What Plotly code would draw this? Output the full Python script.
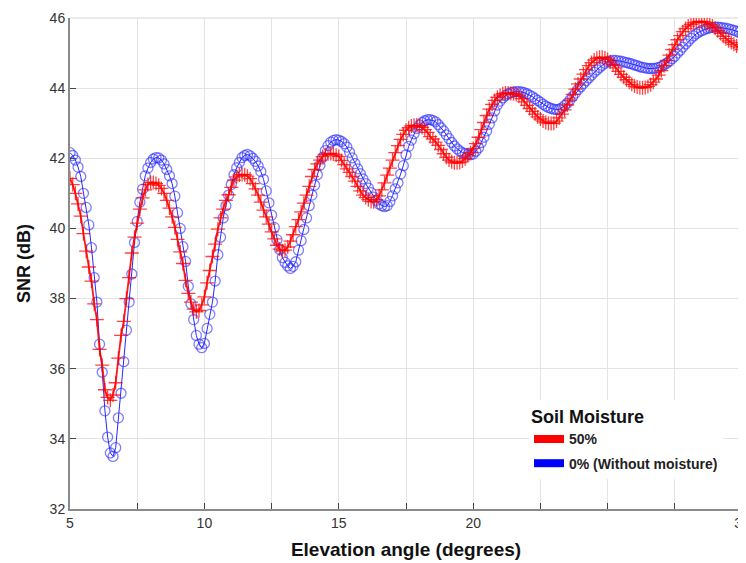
import numpy as np
import plotly.graph_objects as go

# Elevation angles (degrees), 0.1 degree step as in the reference
elevation = [round(5 + 0.1 * i, 1) for i in range(251)]

# SNR (dB) for 0% soil moisture (without moisture)
snr_dry = [
    42.16, 42.08, 41.95, 41.75, 41.48, 41.00, 40.60, 40.10, 39.45, 38.60,
    37.90, 36.70, 35.90, 34.80, 34.05, 33.60, 33.50, 33.75, 34.60, 35.30,
    36.20, 37.10, 37.90, 38.70, 39.60, 40.20, 40.75, 41.12, 41.50, 41.72,
    41.88, 41.98, 42.02, 42.01, 41.95, 41.84, 41.68, 41.50, 41.28, 40.92,
    40.45, 40.00, 39.48, 39.06, 38.35, 37.85, 37.40, 36.95, 36.70, 36.60,
    36.72, 37.15, 37.55, 37.90, 38.50, 39.25, 39.75, 40.30, 40.65, 40.95,
    41.25, 41.53, 41.73, 41.88, 42.02, 42.08, 42.11, 42.07, 42.00, 41.91,
    41.78, 41.62, 41.40, 41.07, 40.73, 40.38, 40.03, 39.68, 39.40, 39.17,
    39.03, 38.93, 38.86, 38.92, 39.05, 39.38, 39.65, 39.97, 40.30, 40.65,
    40.95, 41.23, 41.53, 41.80, 42.03, 42.22, 42.36, 42.46, 42.51, 42.53,
    42.52, 42.48, 42.42, 42.32, 42.17, 42.01, 41.85, 41.70, 41.56, 41.41,
    41.28, 41.15, 41.02, 40.89, 40.80, 40.70, 40.65, 40.62, 40.65, 40.77,
    40.93, 41.13, 41.30, 41.55, 41.79, 42.10, 42.34, 42.52, 42.70, 42.85,
    42.95, 43.02, 43.07, 43.10, 43.10, 43.08, 43.04, 42.96, 42.87, 42.78,
    42.67, 42.56, 42.45, 42.35, 42.27, 42.21, 42.16, 42.13, 42.11, 42.10,
    42.12, 42.20, 42.30, 42.45, 42.60, 42.78, 42.97, 43.15, 43.35, 43.52,
    43.63, 43.72, 43.79, 43.84, 43.87, 43.89, 43.90, 43.90, 43.89, 43.87,
    43.84, 43.80, 43.76, 43.70, 43.65, 43.60, 43.54, 43.49, 43.45, 43.42,
    43.40, 43.39, 43.40, 43.44, 43.50, 43.57, 43.66, 43.76, 43.86, 43.96,
    44.04, 44.13, 44.21, 44.29, 44.37, 44.45, 44.52, 44.59, 44.65, 44.71,
    44.76, 44.78, 44.79, 44.79, 44.78, 44.77, 44.75, 44.73, 44.71, 44.69,
    44.66, 44.64, 44.61, 44.59, 44.58, 44.56, 44.56, 44.56, 44.57, 44.59,
    44.62, 44.66, 44.71, 44.77, 44.84, 44.91, 45.00, 45.08, 45.17, 45.26,
    45.34, 45.42, 45.49, 45.55, 45.60, 45.64, 45.67, 45.70, 45.72, 45.73,
    45.74, 45.74, 45.73, 45.72, 45.71, 45.69, 45.67, 45.65, 45.62, 45.59,
    45.56,
]

# SNR (dB) for 50% soil moisture
snr_wet = [
    41.43, 41.25, 41.00, 40.70, 40.35, 39.85, 39.35, 38.90, 38.50, 37.85,
    37.40, 36.55, 36.10, 35.40, 35.18, 35.10, 35.25, 35.60, 36.30, 36.95,
    37.35, 38.00, 38.60, 39.30, 39.75, 40.15, 40.55, 40.87, 41.10, 41.25,
    41.31, 41.31, 41.28, 41.23, 41.14, 41.00, 40.80, 40.58, 40.33, 40.03,
    39.69, 39.33, 39.00, 38.52, 38.15, 37.90, 37.70, 37.62, 37.66, 37.82,
    38.05, 38.45, 38.80, 39.20, 39.55, 39.98, 40.30, 40.55, 40.80, 40.96,
    41.17, 41.38, 41.47, 41.52, 41.54, 41.53, 41.49, 41.42, 41.28, 41.13,
    40.95, 40.75, 40.52, 40.33, 40.12, 39.90, 39.70, 39.52, 39.41, 39.36,
    39.38, 39.47, 39.64, 39.82, 40.05, 40.25, 40.47, 40.72, 40.95, 41.20,
    41.48, 41.68, 41.84, 41.95, 42.05, 42.10, 42.13, 42.14, 42.12, 42.09,
    42.05, 41.94, 41.82, 41.70, 41.60, 41.48, 41.35, 41.20, 41.07, 40.95,
    40.88, 40.82, 40.77, 40.76, 40.82, 40.93, 41.10, 41.30, 41.52, 41.72,
    41.95, 42.16, 42.36, 42.54, 42.68, 42.80, 42.87, 42.92, 42.94, 42.94,
    42.92, 42.88, 42.82, 42.74, 42.62, 42.55, 42.46, 42.37, 42.25, 42.13,
    42.03, 41.95, 41.90, 41.87, 41.87, 41.88, 41.92, 41.99, 42.07, 42.16,
    42.28, 42.42, 42.60, 42.82, 43.02, 43.22, 43.40, 43.54, 43.65, 43.74,
    43.80, 43.84, 43.86, 43.86, 43.85, 43.84, 43.82, 43.78, 43.70, 43.61,
    43.51, 43.42, 43.34, 43.26, 43.18, 43.12, 43.06, 43.02, 43.00, 42.99,
    43.00, 43.06, 43.15, 43.26, 43.38, 43.52, 43.66, 43.82, 43.97, 44.12,
    44.26, 44.40, 44.53, 44.64, 44.73, 44.80, 44.85, 44.88, 44.88, 44.86,
    44.82, 44.75, 44.67, 44.58, 44.48, 44.39, 44.31, 44.24, 44.17, 44.11,
    44.06, 44.03, 44.01, 44.01, 44.02, 44.05, 44.10, 44.17, 44.26, 44.37,
    44.50, 44.64, 44.79, 44.94, 45.10, 45.24, 45.38, 45.50, 45.61, 45.70,
    45.77, 45.82, 45.86, 45.88, 45.90, 45.90, 45.89, 45.86, 45.82, 45.77,
    45.71, 45.64, 45.56, 45.48, 45.41, 45.35, 45.30, 45.25, 45.20, 45.15,
    45.10,
]

x_tick_vals = [5, 7.5, 10, 12.5, 15, 17.5, 20, 22.5, 25, 27.5, 30]
x_tick_text = ["5", "", "10", "", "15", "", "20", "", "", "", "30"]
y_tick_vals = [32, 34, 36, 38, 40, 42, 44, 46]

legend_title = "Soil Moisture"
label_wet = "50%"
label_dry = "0% (Without moisture)"

FONT = "Liberation Sans, Arial, sans-serif"
GRID = "#e3e3e3"

fig = go.Figure()

fig.add_trace(go.Scatter(
    x=elevation, y=snr_dry, mode="lines+markers", showlegend=False,
    line=dict(color="rgba(0,0,255,0.85)", width=1),
    marker=dict(symbol="circle-open", size=10, color="rgba(40,40,255,0.6)",
                line=dict(width=1.3, color="rgba(40,40,255,0.6)")),
))
fig.add_trace(go.Scatter(
    x=elevation, y=snr_wet, mode="lines+markers", showlegend=False,
    line=dict(color="rgba(255,0,0,0.9)", width=1.8),
    marker=dict(symbol="cross-thin-open", size=10, color="rgba(255,0,0,0.75)",
                line=dict(width=1.3, color="rgba(255,0,0,0.75)")),
))

# legend entries drawn as thick bars
fig.add_trace(go.Scatter(x=[None], y=[None], mode="lines", name="<b>" + label_wet + "</b>",
                         legendgroup="wet",
                         line=dict(color="#ff0000", width=8)))
fig.add_trace(go.Scatter(x=[None], y=[None], mode="lines", name="<b>" + label_dry + "</b>",
                         legendgroup="dry",
                         line=dict(color="#0000ff", width=8)))

fig.update_layout(
    width=746, height=563,
    margin=dict(l=62, r=12, t=10, b=62),
    paper_bgcolor="white", plot_bgcolor="white",
    font=dict(family=FONT, size=14, color="#333333"),
    legend=dict(
        title=dict(text="<b>" + legend_title + "</b>",
                   font=dict(size=18, color="#111111", family=FONT)),
        x=0.683, y=0.222, xanchor="left", yanchor="top",
        bgcolor="white", borderwidth=0,
        font=dict(size=14, color="#222222", family=FONT),
        itemwidth=30, tracegroupgap=3,
    ),
    xaxis=dict(
        range=[5, 30], tickvals=x_tick_vals, ticktext=x_tick_text,
        automargin=False, ticklabeloverflow="allow",
        showgrid=True, gridcolor=GRID, gridwidth=1,
        showline=True, linecolor="#8a8a8a", linewidth=2,
        ticks="inside", ticklen=6, tickcolor="#444444", tickwidth=1,
        zeroline=False,
        tickfont=dict(size=14, color="#333333"),
        title=dict(text="<b>Elevation angle (degrees)</b>",
                   font=dict(size=19, color="#111111"), standoff=13),
    ),
    yaxis=dict(
        range=[32, 46], tickvals=y_tick_vals,
        automargin=False, ticklabeloverflow="allow",
        showgrid=True, gridcolor=GRID, gridwidth=1,
        showline=True, linecolor="#8a8a8a", linewidth=2,
        ticks="inside", ticklen=6, tickcolor="#444444", tickwidth=1,
        zeroline=False,
        tickfont=dict(size=14, color="#333333"),
        title=dict(text="<b>SNR (dB)</b>",
                   font=dict(size=18, color="#111111"), standoff=14),
    ),
    shapes=[
        dict(type="line", xref="paper", yref="paper", x0=0, x1=1, y0=1, y1=1,
             line=dict(color=GRID, width=1.5), layer="below"),
        dict(type="line", xref="paper", yref="paper", x0=1, x1=1, y0=0, y1=1,
             line=dict(color=GRID, width=1.5), layer="below"),
    ],
)

fig.write_html("out.html")
